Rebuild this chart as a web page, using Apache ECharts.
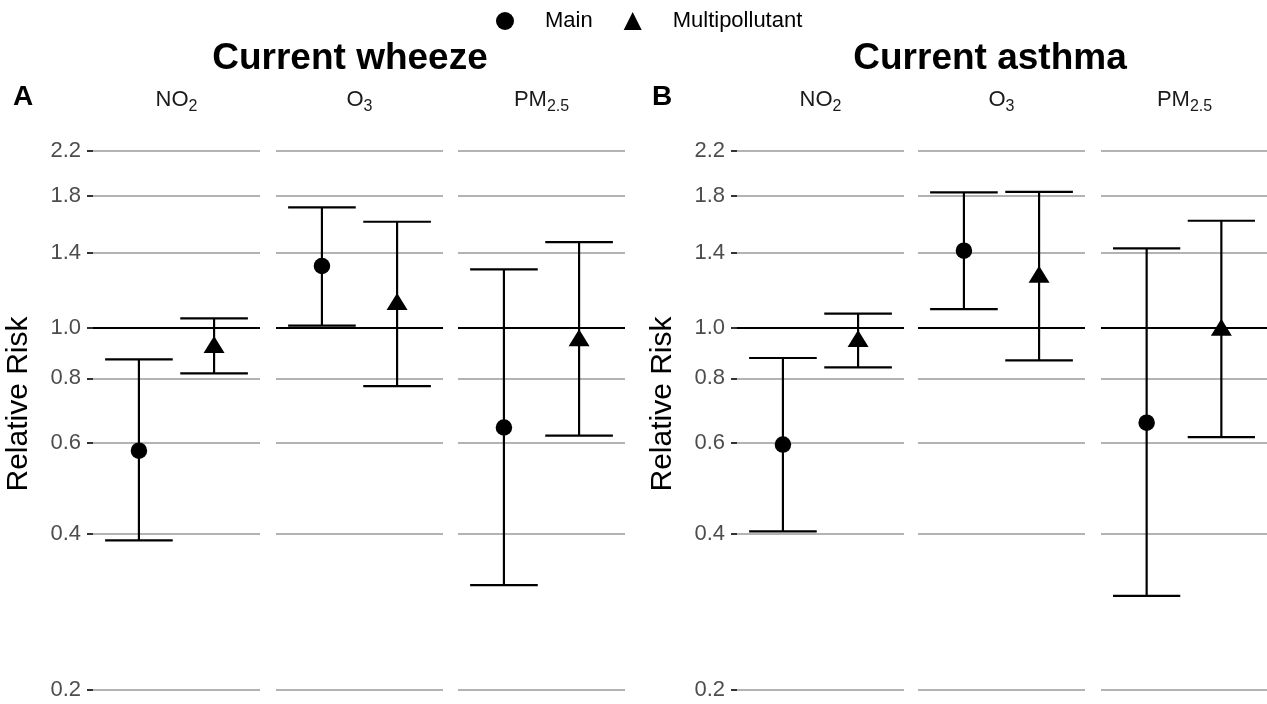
<!DOCTYPE html>
<html><head><meta charset="utf-8">
<script src="https://cdn.jsdelivr.net/npm/echarts@6/dist/echarts.min.js"></script>
<style>html,body{margin:0;padding:0;background:#fff}#chart{width:1267px;height:704px}</style>
</head><body><div id="chart"></div>
<script>
// ---------- data ----------
const outcomes = ['Current wheeze', 'Current asthma'];
const panelLetters = ['A', 'B'];
const pollutants = ['NO2', 'O3', 'PM2.5'];
const models = ['Main', 'Multipollutant'];
const yTicks = [0.2, 0.4, 0.6, 0.8, 1.0, 1.4, 1.8, 2.2];
const refLine = 1.0;

// Current wheeze (panel A), per pollutant NO2, O3, PM2.5
const wheezeMainRR  = [0.580, 1.319, 0.643];
const wheezeMainLo  = [0.389, 1.012, 0.319];
const wheezeMainHi  = [0.871, 1.712, 1.299];
const wheezeMultiRR = [0.919, 1.112, 0.947];
const wheezeMultiLo = [0.818, 0.773, 0.620];
const wheezeMultiHi = [1.045, 1.606, 1.467];
// Current asthma (panel B)
const asthmaMainRR  = [0.596, 1.412, 0.657];
const asthmaMainLo  = [0.405, 1.089, 0.304];
const asthmaMainHi  = [0.876, 1.830, 1.426];
const asthmaMultiRR = [0.944, 1.255, 0.992];
const asthmaMultiLo = [0.840, 0.867, 0.616];
const asthmaMultiHi = [1.067, 1.835, 1.613];

// ---------- layout / style ----------
const FONT = "'Liberation Sans', Arial, Helvetica, sans-serif";
const stripRich = {'NO2': '{a|NO}{b|2}', 'O3': '{a|O}{b|3}', 'PM2.5': '{a|PM}{b|2.5}'};
const facetLefts = [[93, 276, 458], [737, 918, 1101]];
const facetW = 167;
const gridTop = 108, gridBottomY = 700;
const tickTopY = 151, tickBottomY = 690;
const xMin = 0.4, xMax = 1.6, xCenter = 1, dodge = 0.27, capHalf = 0.243;
const titleCenters = [350, 990];
const letterX = [13, 652];

const L = Math.log;
const k = (tickBottomY - tickTopY) / (L(yTicks[yTicks.length - 1]) - L(yTicks[0]));
const yMax = L(yTicks[yTicks.length - 1]) + (tickTopY - gridTop) / k;
const yMin = L(yTicks[0]) - (gridBottomY - tickBottomY) / k;
const lnTicks = yTicks.map(L);

const panelData = [
  {Main: [wheezeMainRR, wheezeMainLo, wheezeMainHi], Multipollutant: [wheezeMultiRR, wheezeMultiLo, wheezeMultiHi]},
  {Main: [asthmaMainRR, asthmaMainLo, asthmaMainHi], Multipollutant: [asthmaMultiRR, asthmaMultiLo, asthmaMultiHi]}
];
const modelX = {Main: xCenter - dodge, Multipollutant: xCenter + dodge};
const modelSymbol = {Main: 'circle', Multipollutant: 'triangle'};
const modelSize = {Main: 16.5, Multipollutant: [21, 17]};
const modelOffset = {Main: [0, 0], Multipollutant: [0, -2.8]};

function renderErrorBar(params, api) {
  const x = api.value(0), lo = api.value(1), hi = api.value(2);
  const pLo = api.coord([x, lo]), pHi = api.coord([x, hi]);
  const lL = api.coord([x - capHalf, lo]), rL = api.coord([x + capHalf, lo]);
  const lH = api.coord([x - capHalf, hi]), rH = api.coord([x + capHalf, hi]);
  const st = {stroke: '#000', lineWidth: 2.2};
  return {type: 'group', children: [
    {type: 'line', shape: {x1: pLo[0], y1: pLo[1], x2: pHi[0], y2: pHi[1]}, style: st},
    {type: 'line', shape: {x1: lL[0], y1: lL[1], x2: rL[0], y2: rL[1]}, style: st},
    {type: 'line', shape: {x1: lH[0], y1: lH[1], x2: rH[0], y2: rH[1]}, style: st}
  ]};
}

const grids = [], xAxes = [], yAxes = [], series = [], graphics = [];
outcomes.forEach((outcome, p) => {
  pollutants.forEach((pol, f) => {
    const g = grids.length;
    const left = facetLefts[p][f];
    const isLast = (p === 1 && f === 2);
    grids.push(isLast ? {left: left, right: 0, top: gridTop, bottom: 704 - gridBottomY}
                      : {left: left, width: facetW, top: gridTop, bottom: 704 - gridBottomY});
    xAxes.push({gridIndex: g, type: 'value', min: xMin, max: xMax, show: false});
    const first = f === 0;
    yAxes.push({
      gridIndex: g, type: 'value', min: yMin, max: yMax,
      axisLine: {show: false},
      axisTick: {show: first, customValues: lnTicks, length: 6, lineStyle: {color: '#333', width: 2}},
      axisLabel: {show: first, customValues: lnTicks, formatter: v => Math.exp(v).toFixed(1),
        fontSize: 22, color: '#4d4d4d', fontFamily: FONT, margin: 12},
      splitLine: {show: true, lineStyle: {color: '#b3b3b3', width: 1.8}},
      name: first ? 'Relative Risk' : '', nameLocation: 'middle', nameGap: 59, nameRotate: 90,
      nameTextStyle: {fontSize: 30, color: '#000', fontFamily: FONT}
    });
    models.forEach((m, mi) => {
      const [rr, lo, hi] = panelData[p][m];
      series.push({
        name: m, type: 'custom', xAxisIndex: g, yAxisIndex: g,
        renderItem: renderErrorBar, itemStyle: {color: '#000'},
        encode: {x: 0, y: [1, 2]},
        data: [[modelX[m], L(lo[f]), L(hi[f])]], z: 3
      });
      const s = {
        name: m, type: 'scatter', xAxisIndex: g, yAxisIndex: g,
        symbol: modelSymbol[m], symbolSize: modelSize[m], symbolOffset: modelOffset[m],
        itemStyle: {color: '#000', opacity: 1},
        data: [[modelX[m], L(rr[f])]], z: 4
      };
      if (mi === 0) {
        s.markLine = {silent: true, symbol: 'none', label: {show: false},
          lineStyle: {color: '#000', width: 2.2, type: 'solid'},
          data: [{yAxis: L(refLine)}]};
      }
      series.push(s);
    });
    graphics.push({type: 'text', x: left + facetW / 2, y: 100,
      style: {text: stripRich[pol], textAlign: 'center', textVerticalAlign: 'middle', fill: '#1a1a1a',
        rich: {a: {fontSize: 22, fontFamily: FONT, fill: '#1a1a1a', lineHeight: 30, verticalAlign: 'middle'},
               b: {fontSize: 16, fontFamily: FONT, fill: '#1a1a1a', lineHeight: 15, verticalAlign: 'bottom'}}}});
  });
  graphics.push({type: 'text', x: titleCenters[p], y: 59,
    style: {text: outcome, textAlign: 'center', textVerticalAlign: 'middle', fill: '#000',
      font: "bold 37px 'Liberation Sans', Arial, sans-serif"}});
  graphics.push({type: 'text', x: letterX[p], y: 97,
    style: {text: panelLetters[p], textAlign: 'left', textVerticalAlign: 'middle', fill: '#000',
      font: "bold 28px 'Liberation Sans', Arial, sans-serif"}});
});

const chart = echarts.init(document.getElementById('chart'), null, {renderer: 'canvas'});
chart.setOption({
  animation: false,
  color: ['#000'],
  backgroundColor: '#fff',
  legend: {
    left: 491, top: 5, itemWidth: 18, itemHeight: 18, itemGap: 31,
    data: [{name: 'Main', icon: 'circle'}, {name: 'Multipollutant', icon: 'triangle'}],
    textStyle: {fontSize: 22, color: '#000', fontFamily: FONT, padding: [0, 0, 0, 26]},
    itemStyle: {color: '#000'}
  },
  grid: grids, xAxis: xAxes, yAxis: yAxes, series: series, graphic: graphics
});
</script></body></html>
